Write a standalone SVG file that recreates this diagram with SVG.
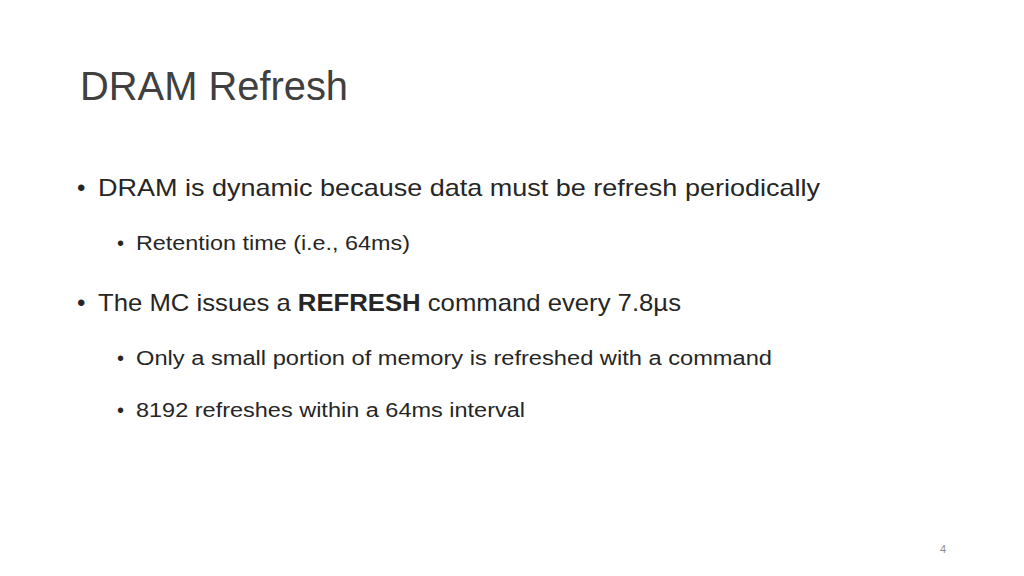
<svg xmlns="http://www.w3.org/2000/svg" width="1024" height="576" viewBox="0 0 1024 576">
<style>
text{font-family:"Liberation Sans","Open Sans",sans-serif;fill:#262626}
.t{font-size:40px;fill:#404040}
.b1{font-size:24px}
.b2{font-size:20px}
</style>
<rect width="1024" height="576" fill="#fff"/>
<text class="t" x="80" y="100" textLength="268" lengthAdjust="spacingAndGlyphs">DRAM Refresh</text>
<text class="b1" x="77" y="196">•</text>
<text class="b1" x="98" y="196" textLength="722" lengthAdjust="spacingAndGlyphs">DRAM is dynamic because data must be refresh periodically</text>
<text class="b2" x="117" y="250">•</text>
<text class="b2" x="136" y="250" textLength="274" lengthAdjust="spacingAndGlyphs">Retention time (i.e., 64ms)</text>
<text class="b1" x="77" y="311">•</text>
<text class="b1" x="98" y="311" textLength="583" lengthAdjust="spacingAndGlyphs">The MC issues a <tspan font-weight="bold">REFRESH</tspan> command every 7.8µs</text>
<text class="b2" x="117" y="365">•</text>
<text class="b2" x="136" y="365" textLength="636" lengthAdjust="spacingAndGlyphs">Only a small portion of memory is refreshed with a command</text>
<text class="b2" x="117" y="417">•</text>
<text class="b2" x="136" y="417" textLength="389" lengthAdjust="spacingAndGlyphs">8192 refreshes within a 64ms interval</text>
<text x="940" y="553" font-size="11" style="fill:#8c8c8c">4</text>
</svg>
